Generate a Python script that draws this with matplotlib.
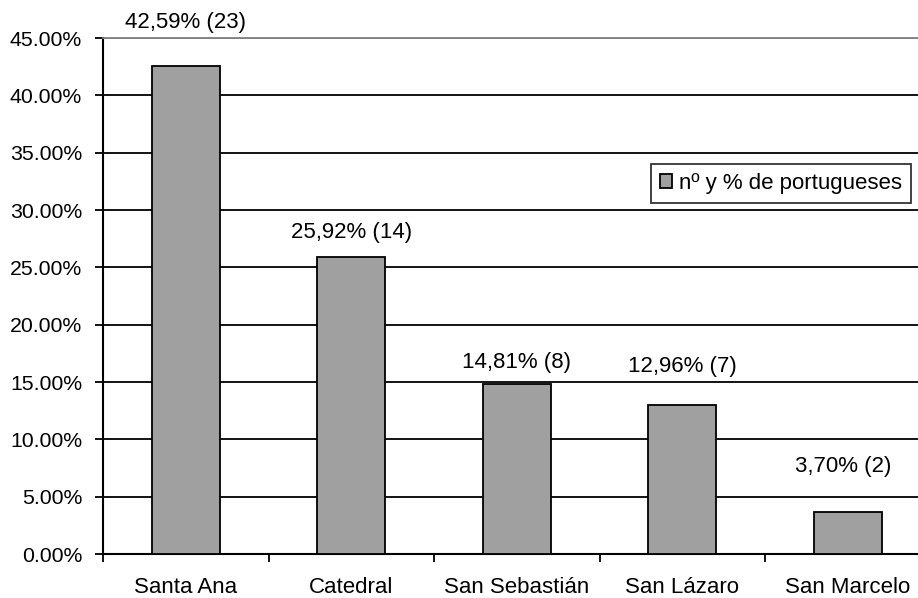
import matplotlib
matplotlib.use("Agg")
import matplotlib.pyplot as plt
from matplotlib.ticker import FixedLocator, NullFormatter

plt.rcParams['font.family'] = ['Liberation Sans', 'DejaVu Sans']

categories = ["Santa Ana", "Catedral", "San Sebastián", "San Lázaro", "San Marcelo"]
percent = [42.59, 25.92, 14.81, 12.96, 3.70]
counts = [23, 14, 8, 7, 2]
labels = ["42,59% (23)", "25,92% (14)", "14,81% (8)", "12,96% (7)", "3,70% (2)"]
yticks = [0, 5, 10, 15, 20, 25, 30, 35, 40, 45]
ytick_labels = ["%.2f%%" % v for v in yticks]
legend_label = "nº y % de portugueses"

label_offsets_px = [43, 24, 22, 39, 45]
label_dx_px = [0, 0, 0, 0, -5]

W, H = 918, 598
fig = plt.figure(figsize=(W / 100, H / 100), dpi=100)
ax = fig.add_axes([103 / W, 1 - 554 / H, (930.5 - 103) / W, (554 - 38) / H])

xs = [i + 0.5 for i in range(len(categories))]
bars = ax.bar(xs, percent, width=0.41, color='#a0a0a0', edgecolor='black',
              linewidth=1.3, zorder=3, label=legend_label)

ax.set_xlim(0, len(categories))
ax.set_ylim(0, 45)
ax.set_yticks(yticks)
ax.set_yticklabels(ytick_labels)
ax.yaxis.grid(True, color='black', linewidth=1.3, zorder=0)
ax.set_axisbelow(True)
ax.get_ygridlines()[-1].set_color('#808080')

ax.xaxis.set_major_locator(FixedLocator(list(range(len(categories) + 1))))
ax.xaxis.set_major_formatter(NullFormatter())
ax.xaxis.set_minor_locator(FixedLocator(xs))
ax.set_xticklabels(categories, minor=True)
ax.tick_params(axis='x', which='major', length=6, width=1.3, direction='out')
ax.tick_params(axis='x', which='minor', length=0, pad=16.5, labelsize=16)
ax.tick_params(axis='y', length=6, width=1.3, direction='out', pad=9, labelsize=15.3)

for s in ['left', 'bottom']:
    ax.spines[s].set_linewidth(1.5)
    ax.spines[s].set_color('black')
ax.spines['top'].set_color('#808080')
ax.spines['top'].set_linewidth(1.3)
ax.spines['right'].set_visible(False)

for x, v, lab, off, dx in zip(xs, percent, labels, label_offsets_px, label_dx_px):
    ax.annotate(lab, (x, v), xytext=(dx * 0.72, off * 0.72), textcoords='offset points',
                ha='center', va='center', fontsize=16, zorder=5)

leg = ax.legend(loc='upper left', bbox_to_anchor=(651 / W, 1 - 164 / H),
                bbox_transform=fig.transFigure, fontsize=16, frameon=True,
                fancybox=False, edgecolor='black', borderaxespad=0,
                handlelength=0.55, handleheight=0.55, handletextpad=0.3,
                borderpad=0.4)
leg.get_frame().set_linewidth(1.3)
leg.set_zorder(10)

fig.savefig("out.png", dpi=100)
